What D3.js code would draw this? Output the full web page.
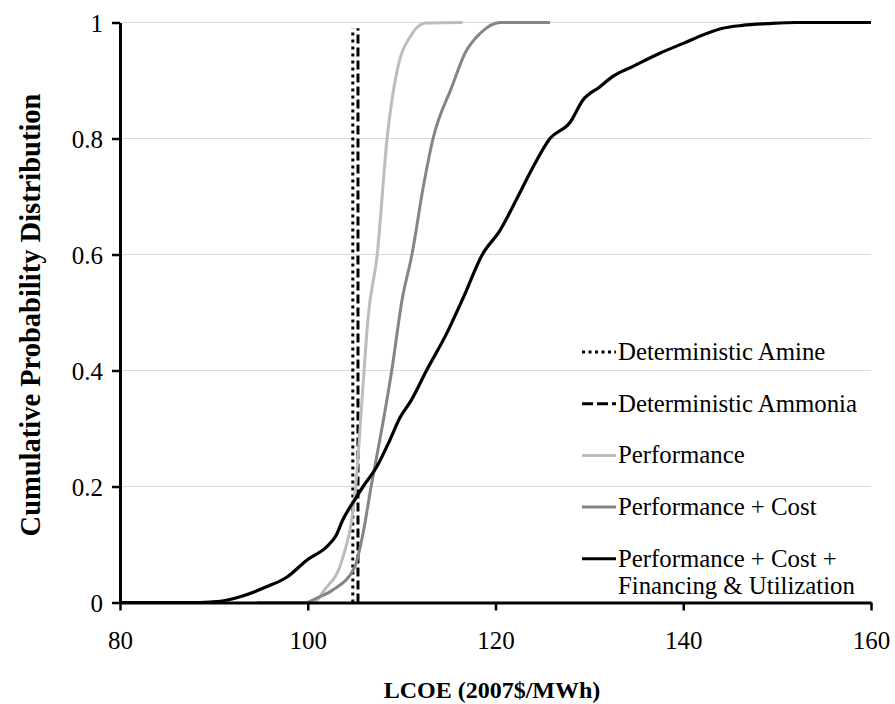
<!DOCTYPE html>
<html>
<head>
<meta charset="utf-8">
<script src="https://cdn.jsdelivr.net/npm/d3@7"></script>
<style>
  html, body { margin: 0; padding: 0; background: #fff; }
  svg { display: block; font-family: "Liberation Serif", "Times New Roman", serif; }
</style>
</head>
<body>
<svg id="chart" width="895" height="704"></svg>
<script>
// ---- Data ----
const xTicks = [80, 100, 120, 140, 160];
const yTicks = [0, 0.2, 0.4, 0.6, 0.8, 1];
const xDomain = [80, 160];
const yDomain = [0, 1];

const deterministicAmine = 104.8;
const deterministicAmmonia = 105.35;

// [LCOE, cumulative probability]
const performance = [
  [94.6, 0], [100.6, 0], [101.8, 0.022], [103.65, 0.073], [105.1, 0.2],
  [106.0, 0.4], [106.4, 0.487], [107.4, 0.6], [108.45, 0.8], [109.7, 0.93],
  [110.9, 0.975], [112.5, 0.999], [116.5, 1]
];
const performanceCost = [
  [94.6, 0], [99.7, 0], [101.0, 0.008], [102.7, 0.022], [105.0, 0.061],
  [105.9, 0.12], [106.75, 0.2], [107.9, 0.3], [108.95, 0.4], [110.05, 0.522],
  [111.1, 0.6], [112.3, 0.716], [113.35, 0.8], [115.35, 0.889], [116.75, 0.947],
  [118.35, 0.981], [120.5, 1], [125.8, 1]
];
const performanceCostFinancing = [
  [80, 0], [88.5, 0], [90.65, 0.002], [92.8, 0.01], [95.6, 0.027],
  [97.8, 0.044], [99.9, 0.073], [102.0, 0.096], [103.0, 0.115], [103.75, 0.143],
  [105.0, 0.177], [105.9, 0.2], [107.35, 0.234], [108.75, 0.28], [109.8, 0.318],
  [111.0, 0.348], [112.65, 0.4], [114.8, 0.464], [116.55, 0.525], [118.6, 0.6],
  [120.5, 0.642], [122.3, 0.697], [124.0, 0.751], [125.8, 0.8],
  [127.95, 0.828], [129.3, 0.866], [131.1, 0.889], [132.5, 0.907], [134.6, 0.924],
  [137.5, 0.947], [140.0, 0.964], [142.5, 0.981], [144.2, 0.99], [146.3, 0.995],
  [149.0, 0.998], [152.0, 1], [160, 1]
];

const legendLabels = [
  ["Deterministic Amine"],
  ["Deterministic Ammonia"],
  ["Performance"],
  ["Performance + Cost"],
  ["Performance + Cost +", "Financing & Utilization"]
];
const xTitle = "LCOE (2007$/MWh)";
const yTitle = "Cumulative Probability Distribution";

// ---- Drawing ----
const svg = d3.select("#chart");
const x = d3.scaleLinear().domain(xDomain).range([120, 871]);
const y = d3.scaleLinear().domain(yDomain).range([602.5, 22.5]);

// gridlines
svg.append("g").selectAll("line")
  .data(yTicks.filter(d => d > 0))
  .join("line")
  .attr("x1", x(80)).attr("x2", x(160))
  .attr("y1", d => y(d)).attr("y2", d => y(d))
  .attr("stroke", "#d9d9d9").attr("stroke-width", 1.2);

const line = d3.line().x(d => x(d[0])).y(d => y(d[1])).curve(d3.curveMonotoneX);

const styles = [
  { color: "#bdbdbd", width: 3 },
  { color: "#858585", width: 3 },
  { color: "#000", width: 3.2 }
];
const series = [performance, performanceCost, performanceCostFinancing];

// deterministic lines
svg.append("line")
  .attr("x1", x(deterministicAmine)).attr("x2", x(deterministicAmine))
  .attr("y1", y(0)).attr("y2", y(0.99))
  .attr("stroke", "#000").attr("stroke-width", 3).attr("stroke-dasharray", "3,4");
svg.append("line")
  .attr("x1", x(deterministicAmmonia)).attr("x2", x(deterministicAmmonia))
  .attr("y1", y(0)).attr("y2", y(0.99))
  .attr("stroke", "#000").attr("stroke-width", 3).attr("stroke-dasharray", "9,4");

series.forEach((s, i) => {
  svg.append("path")
    .datum(s)
    .attr("d", line)
    .attr("fill", "none")
    .attr("stroke", styles[i].color)
    .attr("stroke-width", styles[i].width)
    .attr("stroke-linejoin", "round");
});

// axes
const xAxis = d3.axisBottom(x).tickValues(xTicks).tickSize(8).tickSizeOuter(0).tickPadding(21)
  .tickFormat(d3.format("d"));
const yAxis = d3.axisLeft(y).tickValues(yTicks).tickSize(8).tickSizeOuter(0).tickPadding(9)
  .tickFormat(d => (d === 0 ? "0" : d === 1 ? "1" : d.toFixed(1)));

const gx = svg.append("g").attr("transform", `translate(0,${y(0)})`).call(xAxis);
const gy = svg.append("g").attr("transform", `translate(${x(80)},0)`).call(yAxis);
[gx, gy].forEach(g => {
  g.select(".domain").attr("stroke", "#000").attr("stroke-width", 3);
  g.selectAll(".tick line").attr("stroke", "#000").attr("stroke-width", 2.5);
  g.selectAll(".tick text").attr("fill", "#000")
    .style("font-family", "'Liberation Serif', serif").style("font-size", "25px");
});
gy.selectAll(".tick text").attr("dy", "0.34em");

// axis titles
svg.append("text")
  .attr("x", 492).attr("y", 698)
  .attr("text-anchor", "middle")
  .style("font-size", "24px").style("font-weight", "bold")
  .text(xTitle);
svg.append("text")
  .attr("transform", "translate(40,315) rotate(-90)")
  .attr("text-anchor", "middle")
  .style("font-size", "28.5px").style("font-weight", "bold")
  .text(yTitle);

// legend
const legendStyles = [
  { color: "#000", dash: "3,3.5" },
  { color: "#000", dash: "11,4" },
  { color: "#bdbdbd", dash: null },
  { color: "#858585", dash: null },
  { color: "#000", dash: null }
];
const leg = svg.append("g");
legendLabels.forEach((lbl, i) => {
  const by = 360 + i * 51.7;
  const ln = leg.append("line")
    .attr("x1", 582).attr("x2", 616)
    .attr("y1", by - 8).attr("y2", by - 8)
    .attr("stroke", legendStyles[i].color).attr("stroke-width", 3);
  if (legendStyles[i].dash) ln.attr("stroke-dasharray", legendStyles[i].dash);
  const t = leg.append("text").attr("x", 618).attr("y", by)
    .style("font-size", "24.8px").attr("fill", "#000");
  lbl.forEach((s, j) => {
    t.append("tspan").attr("x", 618).attr("dy", j === 0 ? 0 : 27).text(s);
  });
});
</script>
</body>
</html>
